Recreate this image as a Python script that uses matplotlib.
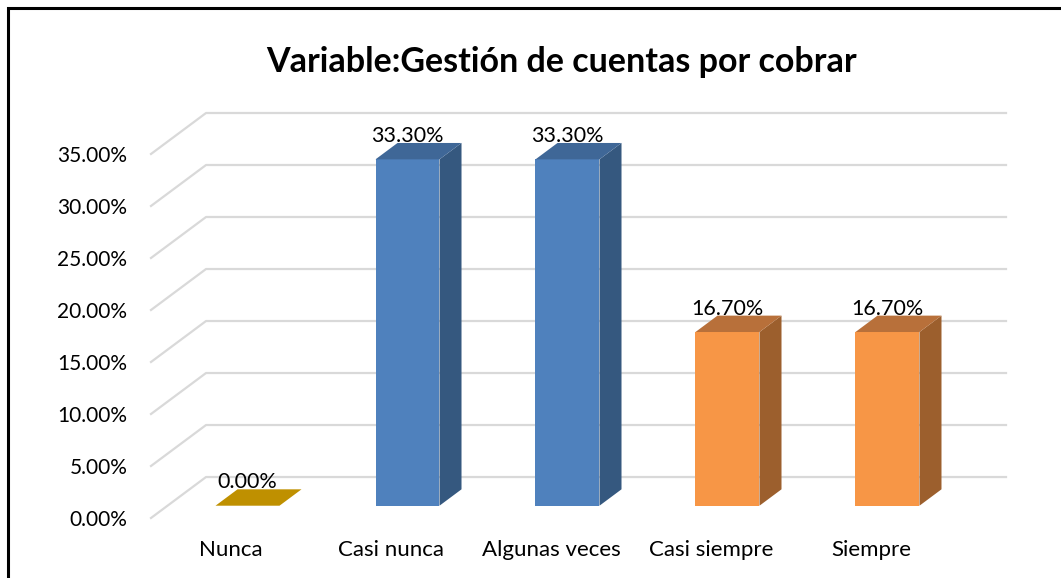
import matplotlib.pyplot as plt
from matplotlib.patches import Polygon, Rectangle

# data
categories = ['Nunca', 'Casi nunca', 'Algunas veces', 'Casi siempre', 'Siempre']
values = [0.0, 33.3, 33.3, 16.7, 16.7]
yticks = [0, 5, 10, 15, 20, 25, 30, 35]
title = 'Variable:Gestión de cuentas por cobrar'

# face colours per bar: front, side, top
front_cols = ['#BF9000', '#4F81BD', '#4F81BD', '#F79646', '#F79646']
side_cols = ['#8F6C00', '#35587F', '#35587F', '#9C5F2D', '#9C5F2D']
top_cols = ['#BF9000', '#3F6797', '#3F6797', '#B8703A', '#B8703A']

W, H = 1061, 578
plt.rcParams['font.family'] = ['Lato', 'DejaVu Sans']
fig = plt.figure(figsize=(W / 100, H / 100), dpi=100)

# fake 3d: depth offset of the floor, in data units
depth_x = 0.344
depth_y = 3.94
bar_w = 0.4
d0, d1 = 0.3, 0.7   # bars sit between these depth fractions

ax = fig.add_axes([151 / W, (H - 518) / H, 855 / W, 405 / H])
ax.set_xlim(-0.5, len(categories) - 0.5 + depth_x)
ax.set_ylim(0, yticks[-1] + depth_y)

# gridlines on the side + back wall
for t in yticks:
    ax.plot([-0.5, -0.5 + depth_x, len(categories) - 0.5 + depth_x],
            [t, t + depth_y, t + depth_y],
            color='#D9D9D9', lw=1.6, clip_on=False, zorder=1)

bx = (d1 - d0) * depth_x
by = (d1 - d0) * depth_y
for i, v in enumerate(values):
    xl = i - bar_w / 2 + d0 * depth_x
    xr = xl + bar_w
    y0 = d0 * depth_y
    y1 = y0 + v
    if v > 0:
        ax.add_patch(Polygon([(xl, y0), (xr, y0), (xr, y1), (xl, y1)],
                             closed=True, fc=front_cols[i], ec='none', zorder=3))
        ax.add_patch(Polygon([(xr, y0), (xr + bx, y0 + by), (xr + bx, y1 + by), (xr, y1)],
                             closed=True, fc=side_cols[i], ec='none', zorder=3))
    ax.add_patch(Polygon([(xl, y1), (xr, y1), (xr + bx, y1 + by), (xl + bx, y1 + by)],
                         closed=True, fc=top_cols[i], ec='none', zorder=3))
    ax.text(i + d0 * depth_x, y1 + by + 0.1, f'{v:.2f}%', ha='center', va='baseline',
            fontsize=15.5, color='black', zorder=4)

ax.set_yticks(yticks, [f'{t:.2f}%' for t in yticks])
ax.set_xticks(range(len(categories)), categories)
ax.tick_params(axis='y', length=0, pad=17, labelsize=15)
ax.tick_params(axis='x', length=0, pad=16, labelsize=16)
for s in ax.spines.values():
    s.set_visible(False)
ax.patch.set_alpha(0)

fig.text(562 / W, 1 - 62 / H, title, ha='center', va='center',
         fontsize=24.5, fontweight='bold')

# outer chart border (runs off the right and bottom of the image)
fig.patches.append(Rectangle((8 / W, -0.1), 1.2, 1.1 - 8 / H, transform=fig.transFigure,
                             fill=False, ec='black', lw=2.2, clip_on=False))

fig.savefig('out.png', dpi=100)
